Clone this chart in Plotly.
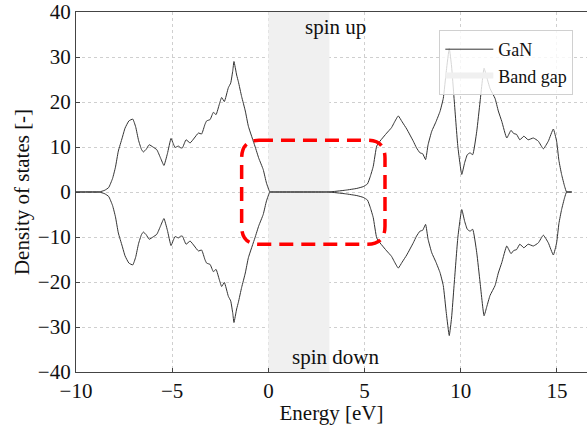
import plotly.graph_objects as go

energy = [-10, -8.8, -8.5, -8.3, -8.1, -7.95, -7.8, -7.6, -7.45, -7.25, -7.05, -6.9, -6.75, -6.6,
          -6.5, -6.35, -6.2, -6.0, -5.8, -5.6, -5.43, -5.25, -5.06, -4.95, -4.85, -4.68, -4.55,
          -4.47, -4.28, -4.07, -3.85, -3.64, -3.47, -3.3, -3.21, -3.03, -2.86, -2.72, -2.55,
          -2.43, -2.29, -2.08, -1.96, -1.85, -1.79, -1.65, -1.56, -1.39, -1.2, -1.04, -0.7,
          -0.5, -0.27, -0.1, 0.08, 0.3, 2.9, 3.15, 4.0, 4.6, 4.93, 5.15, 5.3, 5.45, 5.63, 5.8,
          6.15, 6.4, 6.55, 6.75, 6.95, 7.19, 7.53, 7.7, 7.88, 8.02, 8.17, 8.3, 8.49, 8.7, 8.92,
          9.09, 9.25, 9.4, 9.52, 9.65, 9.85, 10.05, 10.2, 10.34, 10.48, 10.62, 10.83, 11.0,
          11.21, 11.35, 11.52, 11.78, 11.95, 12.13, 12.39, 12.61, 12.75, 12.9, 13.07, 13.28,
          13.5, 13.77, 14.03, 14.29, 14.55, 14.81, 14.98, 15.1, 15.24, 15.4, 15.5, 15.77]
dos_up = [0, 0, 0.4, 1.0, 3.0, 5.5, 9.1, 12.0, 14.2, 15.8, 16.2, 14.5, 11.5, 9.5,
          8.9, 9.5, 10.5, 10.0, 9.4, 7.5, 5.9, 8.5, 11.9, 10.8, 9.9, 10.2, 9.8,
          9.8, 11.6, 10.9, 12.0, 13.1, 12.9, 15.0, 15.8, 16.1, 17.7, 17.2, 19.5,
          21.0, 20.1, 23.2, 24.2, 27.0, 29.0, 26.0, 24.5, 21.2, 18.0, 14.6, 10.2,
          7.5, 5.0, 2.0, 0, 0, 0, 0, 0.4, 0.8, 1.2, 1.8, 3.5, 5.7, 10.2, 11.3,
          13.1, 14.3, 15.5, 16.9, 15.6, 14.0, 11.3, 9.8, 8.7, 8.5, 7.2, 10.5, 13.5, 15.5, 17.9,
          20.8, 27.0, 31.9, 28.0, 20.8, 10.0, 3.9, 6.5, 8.3, 8.7, 8.3, 13.5, 20.0,
          27.5, 25.5, 23.0, 20.8, 18.0, 15.7, 12.0, 13.7, 13.0, 12.8, 11.6, 12.4,
          11.6, 12.0, 11.3, 9.6, 11.3, 14.0, 11.3, 7.0, 3.9, 1.2, 0, 0]
dos_down = [-v for v in dos_up]

band_gap = [0.0, 3.17]
x_range = [-10, 16.56]
y_range = [-40, 40]
x_ticks = [-10, -5, 0, 5, 10, 15]
x_ticklabels = ["\u221210", "\u22125", "0", "5", "10", "15"]
y_ticks = [-40, -30, -20, -10, 0, 10, 20, 30, 40]
y_ticklabels = ["\u221240", "\u221230", "\u221220", "\u221210", "0", "10", "20", "30", "40"]

# highlight box (data coordinates)
box_x = [-1.39, 6.06]
box_y = [-11.6, 11.5]
box_rx, box_ry = 0.9, 4.0

FONT = "Liberation Serif"
LINE = "#333333"
TXT = "#111111"

fig = go.Figure()

fig.add_trace(go.Scatter(
    x=[band_gap[0], band_gap[0], band_gap[1], band_gap[1], band_gap[0]],
    y=[y_range[0], y_range[1], y_range[1], y_range[0], y_range[0]],
    fill="toself", fillcolor="#f0f0f0", mode="none", name="Band gap",
    hoverinfo="skip", legendrank=2))

fig.add_trace(go.Scatter(x=energy, y=dos_up, mode="lines", name="GaN",
                         line=dict(color=LINE, width=1, shape="spline", smoothing=0.4),
                         legendrank=1))
fig.add_trace(go.Scatter(x=energy, y=dos_down, mode="lines", showlegend=False,
                         line=dict(color=LINE, width=1, shape="spline", smoothing=0.4)))

x0, x1 = box_x
y0, y1 = box_y
path = (f"M {x0+box_rx},{y1} L {x1-box_rx},{y1} Q {x1},{y1} {x1},{y1-box_ry} "
        f"L {x1},{y0+box_ry} Q {x1},{y0} {x1-box_rx},{y0} "
        f"L {x0+box_rx},{y0} Q {x0},{y0} {x0},{y0+box_ry} "
        f"L {x0},{y1-box_ry} Q {x0},{y1} {x0+box_rx},{y1} Z")
fig.add_shape(type="path", path=path, xref="x", yref="y",
              line=dict(color="#ff0000", width=3.5, dash="14px,8px"))

fig.add_annotation(x=3.49, y=36.7, text="spin up", showarrow=False,
                   font=dict(family=FONT, size=21, color=TXT))
fig.add_annotation(x=3.49, y=-36.7, text="spin down", showarrow=False,
                   font=dict(family=FONT, size=21, color=TXT))

axis_common = dict(showgrid=True, gridcolor="#cfcfcf", griddash="dot", gridwidth=1,
                   zeroline=False, showline=True, linecolor="#444", linewidth=1.3,
                   ticks="inside", ticklen=4, tickcolor="#444",
                   tickfont=dict(family=FONT, size=21, color=TXT))

fig.update_layout(
    width=587, height=425,
    margin=dict(l=76, r=0, t=12, b=53),
    paper_bgcolor="white", plot_bgcolor="white",
    xaxis=dict(range=x_range, tickvals=x_ticks, ticktext=x_ticklabels, mirror=True,
               title=dict(text="Energy [eV]", font=dict(family=FONT, size=21, color=TXT),
                          standoff=3),
               **axis_common),
    yaxis=dict(range=y_range, tickvals=y_ticks, ticktext=y_ticklabels,
               title=dict(text="Density of states [-]",
                          font=dict(family=FONT, size=21, color=TXT), standoff=2),
               **axis_common),
    legend=dict(x=0.711, y=0.95, xanchor="left", yanchor="top",
                bgcolor="rgba(255,255,255,0.8)", bordercolor="#d0d0d0", borderwidth=1,
                font=dict(family=FONT, size=18, color=TXT), tracegroupgap=0,
                itemwidth=48),
    showlegend=True,
)

fig.write_html("out.html")
